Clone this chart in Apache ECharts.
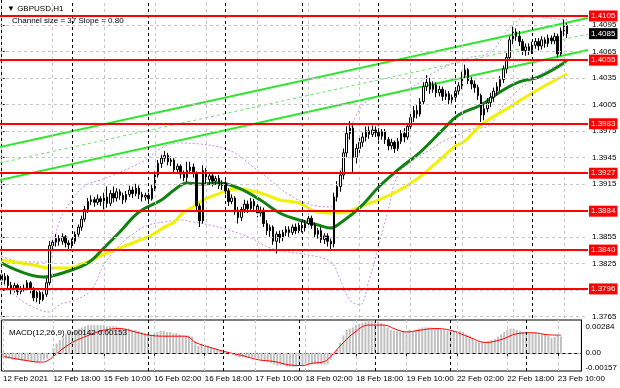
<!DOCTYPE html>
<html><head><meta charset="utf-8">
<script src="https://cdn.jsdelivr.net/npm/echarts@6/dist/echarts.min.js"></script>
<style>html,body{margin:0;padding:0;background:#fff}#c{width:620px;height:388px}</style>
</head><body><div id="c"></div>
<script>
const symbolName = 'GBPUSD,H1';
const channelSize = 37, channelSlope = '0.80';
const firstLabel = '12 Feb 2021';
// trading sessions: [day, first hour, last hour] (last session includes empty bars of chart shift)
const sessions = [['12 Feb',2,23],['15 Feb',0,23],['16 Feb',0,23],['17 Feb',0,23],['18 Feb',0,23],['19 Feb',0,23],['22 Feb',0,23],['23 Feb',0,17]];
// [open, close, low, high]
const candles = [
[1.3812,1.3806,1.3800,1.3816],[1.3806,1.3810,1.3801,1.3814],[1.3810,1.3800,1.3796,1.3812],[1.3800,1.3796,1.3790,1.3804],
[1.3796,1.3800,1.3792,1.3803],[1.3800,1.3793,1.3789,1.3802],[1.3793,1.3796,1.3790,1.3799],[1.3796,1.3797,1.3793,1.3801],
[1.3797,1.3803,1.3794,1.3806],[1.3803,1.3796,1.3791,1.3805],[1.3796,1.3786,1.3782,1.3798],[1.3786,1.3792,1.3781,1.3795],
[1.3792,1.3784,1.3779,1.3794],[1.3784,1.3790,1.3782,1.3793],[1.3790,1.3803,1.3787,1.3808],[1.3803,1.3845,1.3800,1.3850],
[1.3845,1.3849,1.3838,1.3855],[1.3849,1.3853,1.3844,1.3858],[1.3853,1.3850,1.3845,1.3857],[1.3850,1.3855,1.3846,1.3859],
[1.3855,1.3848,1.3843,1.3857],[1.3848,1.3846,1.3840,1.3851],[1.3846,1.3850,1.3842,1.3853],[1.3850,1.3858,1.3847,1.3861],
[1.3858,1.3866,1.3855,1.3869],[1.3866,1.3875,1.3862,1.3879],[1.3875,1.3886,1.3872,1.3890],[1.3886,1.3895,1.3882,1.3899],
[1.3895,1.3897,1.3891,1.3902],[1.3897,1.3894,1.3889,1.3900],[1.3894,1.3898,1.3891,1.3903],[1.3898,1.3895,1.3890,1.3901],
[1.3895,1.3900,1.3886,1.3905],[1.3900,1.3893,1.3888,1.3912],[1.3893,1.3904,1.3890,1.3908],[1.3904,1.3899,1.3894,1.3912],
[1.3899,1.3906,1.3895,1.3910],[1.3906,1.3902,1.3897,1.3909],[1.3902,1.3897,1.3892,1.3905],[1.3897,1.3903,1.3894,1.3907],
[1.3903,1.3908,1.3900,1.3913],[1.3908,1.3904,1.3899,1.3912],[1.3904,1.3910,1.3901,1.3915],[1.3910,1.3903,1.3898,1.3913],
[1.3903,1.3900,1.3895,1.3906],[1.3900,1.3902,1.3896,1.3905],[1.3902,1.3898,1.3893,1.3905],[1.3898,1.3910,1.3896,1.3914],
[1.3910,1.3925,1.3907,1.3929],[1.3925,1.3938,1.3922,1.3942],[1.3938,1.3944,1.3933,1.3948],[1.3944,1.3947,1.3940,1.3952],
[1.3947,1.3940,1.3936,1.3950],[1.3940,1.3942,1.3935,1.3946],[1.3942,1.3931,1.3927,1.3944],[1.3931,1.3935,1.3928,1.3938],
[1.3935,1.3926,1.3921,1.3937],[1.3926,1.3922,1.3918,1.3930],[1.3922,1.3930,1.3917,1.3940],[1.3930,1.3934,1.3926,1.3940],
[1.3934,1.3927,1.3922,1.3938],[1.3927,1.3890,1.3885,1.3929],[1.3890,1.3873,1.3866,1.3893],[1.3873,1.3930,1.3870,1.3936],
[1.3930,1.3920,1.3915,1.3933],[1.3920,1.3924,1.3914,1.3928],[1.3924,1.3918,1.3912,1.3927],[1.3918,1.3921,1.3914,1.3924],
[1.3921,1.3913,1.3909,1.3925],[1.3913,1.3916,1.3908,1.3919],[1.3916,1.3907,1.3903,1.3919],[1.3907,1.3895,1.3890,1.3910],
[1.3895,1.3899,1.3892,1.3903],[1.3899,1.3885,1.3880,1.3901],[1.3885,1.3877,1.3870,1.3889],[1.3877,1.3886,1.3873,1.3889],
[1.3886,1.3892,1.3882,1.3897],[1.3892,1.3887,1.3882,1.3896],[1.3887,1.3895,1.3884,1.3899],[1.3895,1.3890,1.3884,1.3898],
[1.3890,1.3882,1.3877,1.3893],[1.3882,1.3885,1.3878,1.3889],[1.3885,1.3870,1.3866,1.3888],[1.3870,1.3862,1.3857,1.3874],
[1.3862,1.3866,1.3855,1.3869],[1.3866,1.3850,1.3846,1.3868],[1.3850,1.3858,1.3836,1.3861],[1.3858,1.3854,1.3848,1.3862],
[1.3854,1.3860,1.3850,1.3863],[1.3860,1.3863,1.3856,1.3867],[1.3863,1.3860,1.3855,1.3867],[1.3860,1.3866,1.3857,1.3869],
[1.3866,1.3862,1.3858,1.3870],[1.3862,1.3868,1.3859,1.3871],[1.3868,1.3865,1.3860,1.3872],[1.3865,1.3870,1.3861,1.3874],
[1.3870,1.3876,1.3866,1.3880],[1.3876,1.3868,1.3864,1.3879],[1.3868,1.3858,1.3854,1.3871],[1.3858,1.3862,1.3853,1.3865],
[1.3862,1.3852,1.3848,1.3866],[1.3852,1.3856,1.3847,1.3859],[1.3856,1.3850,1.3844,1.3859],[1.3850,1.3847,1.3840,1.3853],
[1.3847,1.3900,1.3843,1.3905],[1.3900,1.3912,1.3895,1.3918],[1.3912,1.3925,1.3906,1.3930],[1.3925,1.3950,1.3920,1.3955],
[1.3950,1.3972,1.3945,1.3980],[1.3972,1.3978,1.3965,1.3986],[1.3978,1.3945,1.3927,1.3982],[1.3945,1.3955,1.3938,1.3960],
[1.3955,1.3962,1.3950,1.3968],[1.3962,1.3968,1.3957,1.3973],[1.3968,1.3975,1.3963,1.3980],[1.3975,1.3971,1.3966,1.3980],
[1.3971,1.3976,1.3968,1.3981],[1.3976,1.3973,1.3968,1.3980],[1.3973,1.3969,1.3964,1.3978],[1.3969,1.3974,1.3965,1.3977],
[1.3974,1.3965,1.3960,1.3977],[1.3965,1.3958,1.3953,1.3968],[1.3958,1.3962,1.3954,1.3966],[1.3962,1.3955,1.3950,1.3964],
[1.3955,1.3963,1.3952,1.3967],[1.3963,1.3972,1.3960,1.3976],[1.3972,1.3968,1.3962,1.3978],[1.3968,1.3980,1.3965,1.3984],
[1.3980,1.3990,1.3976,1.3995],[1.3990,1.3998,1.3985,1.4003],[1.3998,1.3994,1.3989,1.4004],[1.3994,1.4008,1.3991,1.4012],
[1.4008,1.4025,1.4005,1.4030],[1.4025,1.4030,1.4020,1.4038],[1.4030,1.4022,1.4017,1.4035],[1.4022,1.4027,1.4018,1.4031],
[1.4027,1.4018,1.4013,1.4030],[1.4018,1.4022,1.4014,1.4026],[1.4022,1.4014,1.4009,1.4025],[1.4014,1.4017,1.4010,1.4021],
[1.4017,1.4010,1.4005,1.4020],[1.4010,1.4013,1.4006,1.4016],[1.4013,1.4020,1.4008,1.4024],[1.4020,1.4026,1.4016,1.4030],
[1.4026,1.4038,1.4022,1.4042],[1.4038,1.4044,1.4034,1.4050],[1.4044,1.4032,1.4028,1.4046],[1.4032,1.4028,1.4022,1.4036],
[1.4028,1.4024,1.4018,1.4032],[1.4024,1.4015,1.4010,1.4027],[1.4015,1.3993,1.3985,1.4017],[1.3993,1.4000,1.3987,1.4005],
[1.4000,1.4007,1.3996,1.4012],[1.4007,1.4013,1.4002,1.4018],[1.4013,1.4020,1.4008,1.4024],[1.4020,1.4025,1.4015,1.4030],
[1.4025,1.4033,1.4020,1.4037],[1.4033,1.4045,1.4029,1.4049],[1.4045,1.4058,1.4040,1.4063],[1.4058,1.4078,1.4054,1.4082],
[1.4078,1.4087,1.4073,1.4093],[1.4087,1.4082,1.4077,1.4091],[1.4082,1.4076,1.4071,1.4088],[1.4076,1.4066,1.4061,1.4079],
[1.4066,1.4070,1.4060,1.4074],[1.4070,1.4066,1.4061,1.4074],[1.4066,1.4072,1.4062,1.4076],[1.4072,1.4076,1.4068,1.4080],
[1.4076,1.4071,1.4066,1.4080],[1.4071,1.4078,1.4067,1.4082],[1.4078,1.4074,1.4069,1.4081],[1.4074,1.4080,1.4070,1.4084],
[1.4080,1.4077,1.4073,1.4083],[1.4077,1.4082,1.4073,1.4086],[1.4082,1.4062,1.4058,1.4085],[1.4062,1.4088,1.4060,1.4092],
[1.4088,1.4094,1.4082,1.4101],[1.4094,1.4085,1.4080,1.4097]
];
// moving averages and Bollinger bands, sampled [bar index, price]
const maGreen = [[0,1.38254],[13,1.38095],[20,1.38152],[27,1.38254],[32,1.38424],[37,1.38605],[43,1.38831],[50,1.38967],[54,1.39080],[58,1.39160],[62,1.39148],[68,1.39160],[74,1.39103],[81,1.38967],[87,1.38820],[93,1.38741],[99,1.38684],[103,1.38650],[106,1.38707],[112,1.38877],[118,1.39114],[124,1.39307],[131,1.39510],[138,1.39760],[143,1.39929],[150,1.40043],[156,1.40190],[162,1.40303],[168,1.40359],[175,1.40495],[177,1.40552]];
const maYellow = [[0,1.38288],[10,1.38231],[15,1.38197],[21,1.38197],[26,1.38254],[33,1.38367],[41,1.38480],[47,1.38571],[51,1.38661],[54,1.38718],[57,1.38831],[60,1.38888],[63,1.38967],[67,1.39024],[71,1.39080],[74,1.39092],[81,1.39046],[87,1.38967],[93,1.38933],[99,1.38831],[104,1.38820],[108,1.38831],[112,1.38888],[118,1.38967],[124,1.39069],[130,1.39205],[136,1.39386],[142,1.39578],[145,1.39635],[150,1.39816],[159,1.40020],[165,1.40156],[171,1.40280],[177,1.40393]];
const bbUpper = [[0,1.38333],[7,1.38265],[14,1.38265],[16,1.38401],[18,1.38718],[22,1.38967],[26,1.39126],[31,1.39194],[35,1.39250],[40,1.39329],[45,1.39420],[50,1.39556],[55,1.39612],[62,1.39601],[68,1.39567],[73,1.39499],[78,1.39363],[84,1.39194],[90,1.39024],[97,1.38911],[103,1.38888],[105,1.39080],[108,1.39590],[111,1.39929],[115,1.40099],[121,1.40156],[128,1.40235],[134,1.40382],[140,1.40495],[146,1.40575],[153,1.40642],[159,1.40914],[165,1.41050],[171,1.41027],[177,1.41005]];
const bbLower = [[0,1.38039],[6,1.37835],[12,1.37722],[15,1.37699],[18,1.37779],[23,1.37835],[28,1.37948],[32,1.38231],[37,1.38458],[42,1.38605],[46,1.38684],[51,1.38718],[56,1.38741],[60,1.38718],[65,1.38684],[71,1.38628],[78,1.38537],[84,1.38424],[90,1.38378],[96,1.38345],[103,1.38265],[106,1.38062],[109,1.37835],[112,1.37779],[115,1.38062],[118,1.38458],[121,1.38854],[124,1.39250],[129,1.39420],[134,1.39533],[139,1.39646],[143,1.39703],[146,1.39760],[150,1.39782],[153,1.39816],[156,1.39986],[160,1.40156],[165,1.40303],[171,1.40439],[177,1.40552]];
// regression channel: [bar position, price] at the chart's left and right edges
const chanUpper = [[-0.5,1.39567],[183.5,1.41027]];
const chanMid = [[-0.5,1.39386],[183.5,1.40846]];
const chanLower = [[-0.5,1.39194],[183.5,1.40665]];
const levels = [1.4105,1.4055,1.3983,1.3927,1.3884,1.3840,1.3796];
const currentPrice = 1.4085;
const priceTicks = [1.4095,1.4065,1.4035,1.4005,1.3975,1.3945,1.3915,1.3885,1.3855,1.3825,1.3795,1.3765];
const priceMin = 1.37631, priceMax = 1.41231;
const macdHist = [
-0.0004,-0.0005,-0.0005,-0.0006,-0.0006,-0.0006,-0.0007,-0.0007,-0.0007,-0.0008,-0.0008,-0.0008,-0.0007,-0.0006,-0.0005,-0.0001,
0.0004,0.0008,0.0011,0.0014,0.0016,0.0018,0.0019,0.0020,0.0021,0.0022,0.0023,0.0024,0.0024,0.0024,0.0024,0.0024,
0.0024,0.0023,0.0023,0.0023,0.0023,0.0022,0.0021,0.0021,0.0021,0.0020,0.0020,0.0019,0.0018,0.0017,0.0016,0.0016,
0.0017,0.0018,0.0019,0.0019,0.0018,0.0018,0.0017,0.0017,0.0016,0.0015,0.0015,0.0015,0.0014,0.0010,0.0006,0.0008,
0.0007,0.0006,0.0005,0.0004,0.0003,0.0002,0.0001,0.0000,-0.0001,-0.0002,-0.0003,-0.0004,-0.0004,-0.0004,-0.0004,-0.0004,
-0.0005,-0.0005,-0.0006,-0.0007,-0.0008,-0.0009,-0.0010,-0.0011,-0.0011,-0.0011,-0.0012,-0.0012,-0.0012,-0.0012,-0.0011,-0.0011,
-0.0010,-0.0010,-0.0010,-0.0010,-0.0010,-0.0010,-0.0010,-0.0010,-0.0006,-0.0002,0.0003,0.0009,0.0015,0.0020,0.0021,0.0022,
0.0024,0.0025,0.0026,0.0027,0.0028,0.0028,0.0028,0.0027,0.0026,0.0024,0.0022,0.0020,0.0019,0.0019,0.0018,0.0019,
0.0019,0.0020,0.0019,0.0020,0.0021,0.0022,0.0022,0.0022,0.0022,0.0021,0.0021,0.0020,0.0020,0.0019,0.0019,0.0019,
0.0019,0.0019,0.0018,0.0016,0.0015,0.0013,0.0010,0.0009,0.0009,0.0009,0.0010,0.0011,0.0012,0.0014,0.0016,0.0018,
0.0020,0.0021,0.0021,0.0020,0.0019,0.0018,0.0018,0.0017,0.0017,0.0017,0.0016,0.0016,0.0016,0.0015,0.0013,0.0014,
0.0015,0.00142
];
const macdSignal = [[0,-0.0003],[6,-0.0006],[12,-0.0008],[14,-0.0007],[18,0.00015],[22,0.0009],[27,0.0015],[32,0.00195],[37,0.0021],[42,0.0018],[47,0.0015],[52,0.00144],[57,0.00144],[59,0.00135],[61,0.0009],[66,0.00045],[71,0.00006],[76,-0.00024],[81,-0.0006],[86,-0.00075],[91,-0.00105],[95,-0.0011],[98,-0.0009],[102,-0.00075],[104,-0.0003],[107,0.0006],[111,0.00165],[116,0.0024],[121,0.0024],[124,0.0021],[128,0.0018],[132,0.00195],[137,0.0021],[142,0.00195],[148,0.00135],[153,0.0009],[158,0.00114],[163,0.00165],[168,0.00174],[173,0.00156],[177,0.00153]];
const macdTicks = [0.00284,0,-0.00157];
const dayStarts = [22,46,70,94,118,142,166];
const labelEvery = 16;

const categories = [];
sessions.forEach(([d,h0,h1]) => { for (let h=h0; h<=h1; h++) categories.push(d + ' ' + String(h).padStart(2,'0') + ':00'); });
const nBars = candles.length;
const labelIdx = categories.map((c,i)=>i).filter(i => i % labelEvery === 0 && i < nBars);

const FONT = 'Liberation Sans';
const chart = echarts.init(document.getElementById('c'), null, {renderer:'canvas'});

const vLines = () => [
  ...labelIdx.filter(i => dayStarts.indexOf(i) < 0).map(i => ({xAxis: i, lineStyle:{color:'#c6c6c6', type:[3,3], width:1}})),
  ...dayStarts.map(i => ({xAxis: i, lineStyle:{color:'#000', type:[3,3], width:1}}))
];
const lastHist = macdHist[macdHist.length-1], lastSig = macdSignal[macdSignal.length-1][1];

chart.setOption({
  animation: false,
  backgroundColor: '#fff',
  textStyle: {fontFamily: FONT},
  title: [
    {text: '\u25BC ' + symbolName, left: 2, top: 0, textStyle:{fontSize:8, fontWeight:'normal', color:'#000', fontFamily:FONT}},
    {text: 'Channel size = ' + channelSize + ' Slope = ' + channelSlope, left: 7, top: 12, textStyle:{fontSize:8, fontWeight:'normal', color:'#000', fontFamily:FONT}},
    {text: 'MACD(12,26,9) ' + lastHist.toFixed(5) + ' ' + lastSig.toFixed(5), left: 4, top: 324, textStyle:{fontSize:8, fontWeight:'normal', color:'#000', fontFamily:FONT}}
  ],
  grid: [
    {left: 0, right: 32, top: 0, height: 318, show: false},
    {left: 0, right: 32, top: 320, height: 51, show: true, borderColor: '#000', borderWidth: 1, backgroundColor: 'transparent'}
  ],
  xAxis: [
    {type:'category', gridIndex:0, data: categories, boundaryGap:true, axisLine:{show:false}, axisTick:{show:false}, axisLabel:{show:false}, splitLine:{show:false}},
    {type:'category', gridIndex:1, data: categories, boundaryGap:true,
      axisLine:{show:true, lineStyle:{color:'#000'}},
      axisTick:{show:true, alignWithLabel:true, length:3, interval:(i)=> i % labelEvery === 0 && i < nBars, lineStyle:{color:'#000'}},
      axisLabel:{show:true, interval:(i)=> i % labelEvery === 0 && i < nBars, align:'left', margin:4, fontSize:8, color:'#000', fontFamily:FONT,
        formatter:(v,i)=> i===0 ? firstLabel : v},
      splitLine:{show:false}},
    {type:'value', gridIndex:0, min:-0.5, max:categories.length-0.5, show:false}
  ],
  yAxis: [
    {type:'value', gridIndex:0, position:'right', min:priceMin, max:priceMax, scale:true,
      axisLine:{show:true, lineStyle:{color:'#000'}}, splitLine:{show:false},
      axisTick:{show:true, length:3, customValues: priceTicks, lineStyle:{color:'#000'}},
      axisLabel:{show:true, customValues: priceTicks, margin:4, fontSize:8, color:'#000', fontFamily:FONT, formatter:(v)=> v.toFixed(4)}},
    {type:'value', gridIndex:1, position:'right', min:macdTicks[2], max:macdTicks[0],
      axisLine:{show:true, lineStyle:{color:'#000'}}, splitLine:{show:false},
      axisTick:{show:false},
      axisLabel:{show:true, customValues: macdTicks, showMinLabel:true, showMaxLabel:true, margin:4, fontSize:8, color:'#000', fontFamily:FONT,
        formatter:(v)=> v>0 ? '{t|'+v.toFixed(5)+'}' : v<0 ? '{b|'+v.toFixed(5)+'}' : v.toFixed(2),
        rich:{t:{fontSize:8, padding:[14,0,0,0]}, b:{fontSize:8, padding:[0,0,6,0]}}}}
  ],
  series: [
    {type:'line', xAxisIndex:0, yAxisIndex:0, data:[], z:0, silent:true,
      markLine:{silent:true, symbol:'none', precision:5, label:{show:false}, animation:false,
        data:[...priceTicks.map(v=>({yAxis:v, lineStyle:{color:'#c6c6c6', type:[3,3], width:1}})), ...vLines()]}},
    {type:'line', xAxisIndex:1, yAxisIndex:1, data:[], z:0, silent:true,
      markLine:{silent:true, symbol:'none', precision:6, label:{show:false}, animation:false,
        data:[{yAxis:0, lineStyle:{color:'#c6c6c6', type:[3,3], width:1}}, ...vLines()]}},
    {type:'line', xAxisIndex:0, yAxisIndex:0, data: bbUpper, smooth:0.4, symbol:'none', z:1, lineStyle:{color:'#c690e8', width:1, type:[2,2]}},
    {type:'line', xAxisIndex:0, yAxisIndex:0, data: bbLower, smooth:0.4, symbol:'none', z:1, lineStyle:{color:'#c690e8', width:1, type:[2,2]}},
    {type:'line', xAxisIndex:2, yAxisIndex:0, data: chanUpper, symbol:'none', z:2, lineStyle:{color:'#2ee62e', width:2}},
    {type:'line', xAxisIndex:2, yAxisIndex:0, data: chanMid, symbol:'none', z:2, lineStyle:{color:'#5ee65e', width:1, type:[3,3]}},
    {type:'line', xAxisIndex:2, yAxisIndex:0, data: chanLower, symbol:'none', z:2, lineStyle:{color:'#2ee62e', width:2}},
    {type:'line', xAxisIndex:0, yAxisIndex:0, data: maYellow, smooth:0.4, symbol:'none', z:3, lineStyle:{color:'#f2f200', width:3}},
    {type:'line', xAxisIndex:0, yAxisIndex:0, data: maGreen, smooth:0.4, symbol:'none', z:3, lineStyle:{color:'#118211', width:3}},
    {type:'candlestick', xAxisIndex:0, yAxisIndex:0, data: candles, barWidth: 2, z:4,
      itemStyle:{color:'#ffffff', color0:'#000000', borderColor:'#000000', borderColor0:'#000000', borderWidth:1}},
    {type:'line', xAxisIndex:0, yAxisIndex:0, data:[], z:6, silent:true,
      markLine:{silent:true, symbol:'none', precision:5, animation:false,
        lineStyle:{color:'#ff0000', width:2, type:'solid'},
        label:{show:true, position:'end', distance:1, formatter:(p)=> Number(p.value).toFixed(4), backgroundColor:'#ff0000', color:'#fff', fontSize:8, fontFamily:FONT, padding:[2,2,1,2]},
        data:levels.map(v=>({yAxis:v}))}},
    {type:'line', xAxisIndex:0, yAxisIndex:0, data:[], z:6, silent:true,
      markLine:{silent:true, symbol:'none', precision:5, animation:false,
        lineStyle:{color:'rgba(0,0,0,0)', width:0.01, type:'solid'},
        label:{show:true, position:'end', distance:1, formatter:(p)=> Number(p.value).toFixed(4), backgroundColor:'#000000', color:'#ffffff', fontSize:8, fontFamily:FONT, padding:[2,2,1,2], opacity:1},
        data:[{yAxis: currentPrice}]}},
    {type:'bar', xAxisIndex:1, yAxisIndex:1, data: macdHist, barWidth: 2, z:2, itemStyle:{color:'#c0c0c0'}},
    {type:'line', xAxisIndex:1, yAxisIndex:1, data: macdSignal, smooth:0.4, symbol:'none', z:3, lineStyle:{color:'#ff0000', width:1}}
  ]
});
</script></body></html>
